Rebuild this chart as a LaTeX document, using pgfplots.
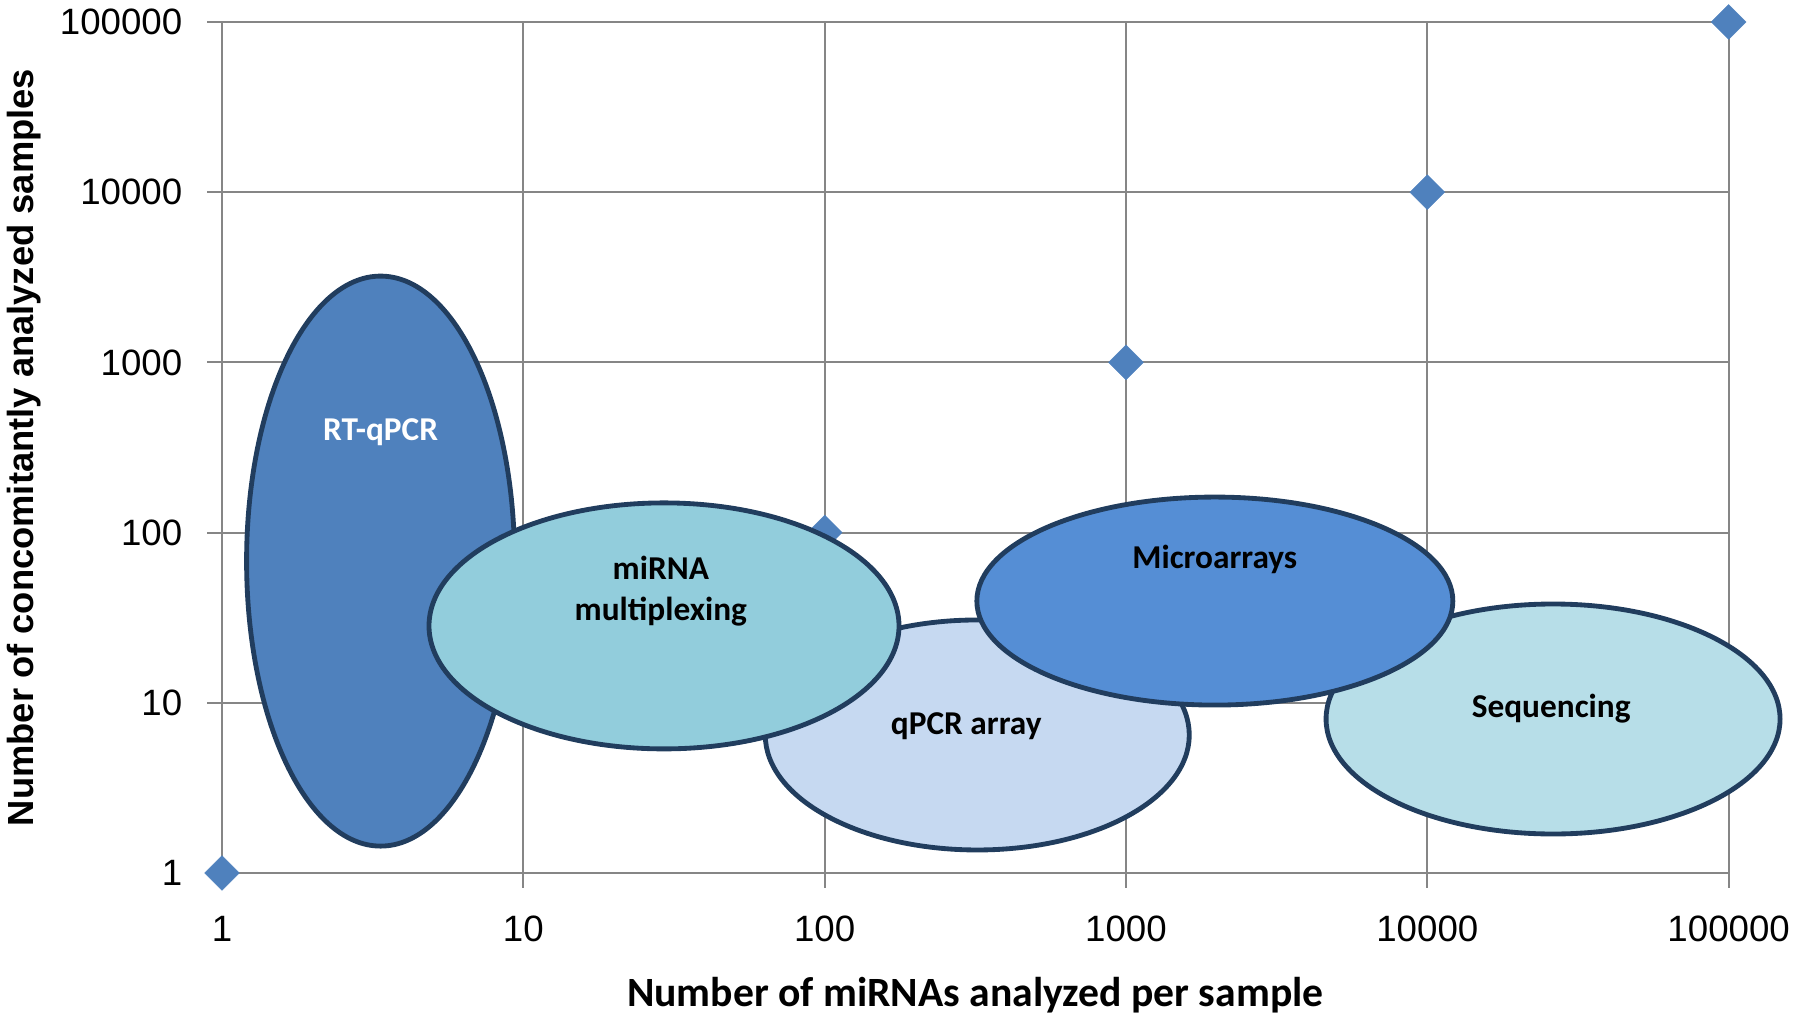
\documentclass[border=0pt]{standalone}
\usepackage{fontspec}
\setmainfont{Liberation Sans}
\newfontfamily\calibri{Carlito}
\usepackage{pgfplots}
\pgfplotsset{compat=1.18}

\definecolor{gridgray}{HTML}{868686}
\definecolor{markblue}{HTML}{4F81BD}
\definecolor{edge}{HTML}{213D5E}
\definecolor{rtfill}{HTML}{4F81BD}
\definecolor{mpfill}{HTML}{92CDDC}
\definecolor{qafill}{HTML}{C6D9F1}
\definecolor{mafill}{HTML}{558ED5}
\definecolor{sqfill}{HTML}{B7DEE8}

\begin{document}
\begin{tikzpicture}
\begin{axis}[
    name=ax,
    scale only axis,
    width=452pt, height=255.3pt,
    xmode=log, ymode=log,
    xmin=1, xmax=100000, ymin=1, ymax=100000,
    xtick={1,10,100,1000,10000,100000},
    xticklabels={1,10,100,1000,10000,100000},
    ytick={1,10,100,1000,10000,100000},
    yticklabels={1,10,100,1000,10000,100000},
    xminorticks=false, yminorticks=false,
    grid=major,
    major grid style={gridgray, line width=0.6pt},
    axis line style={gridgray, line width=0.6pt},
    tick style={gridgray, line width=0.6pt},
    tick align=outside, tick pos=left,
    major tick length=4.4pt,
    ticklabel style={font=\fontsize{11}{13}\selectfont},
    xticklabel style={yshift=-5pt},
    yticklabel style={xshift=-4pt},
    every axis x label/.style={at={(rel axis cs:0.5,0)}, yshift=-36.6pt, anchor=center},
    every axis y label/.style={at={(rel axis cs:0,0.5)}, xshift=-59.5pt, rotate=90, anchor=center},
    xlabel={\calibri\bfseries\fontsize{12.5}{14}\selectfont Number of miRNAs analyzed per sample},
    ylabel={\bfseries\fontsize{10.9}{13}\selectfont Number of concomitantly analyzed samples},
    clip=false, clip marker paths=true,
]
% diagonal reference points
\addplot[only marks, color=markblue, mark=square*, mark size=3.7pt,
    mark options={rotate=45, fill=markblue, draw=markblue, line width=0.1pt}]
    coordinates {(1,1) (100,100) (1000,1000) (10000,10000) (100000,100000)};

% method ellipses
\tikzset{ell/.style={draw=edge, line width=1.45pt}}
\draw[ell, fill=rtfill] (axis cs:3.36,68) ellipse [x radius=40.2pt, y radius=85.5pt];
\draw[ell, fill=qafill] (axis cs:321,6.47) ellipse [x radius=63.6pt, y radius=34.5pt];
\draw[ell, fill=sqfill] (axis cs:26140,8.03) ellipse [x radius=68.1pt, y radius=34.5pt];
\draw[ell, fill=mpfill] (axis cs:29.3,28.3) ellipse [x radius=70.5pt, y radius=36.9pt];
\draw[ell, fill=mafill] (axis cs:1972,39.6) ellipse [x radius=71.4pt, y radius=31.2pt];

\tikzset{lab/.style={font=\calibri\bfseries\fontsize{10}{12.4}\selectfont, align=center}}
\node[lab, text=white] at (axis cs:3.36,390) {RT-qPCR};
\node[lab] at (axis cs:28.6,45.4) {miRNA\\multiplexing};
\node[lab] at (axis cs:295,7.3) {qPCR array};
\node[lab] at (axis cs:1972,70) {Microarrays};
\node[lab] at (axis cs:25760,9.2) {Sequencing};
\end{axis}
\pgfresetboundingbox
\path ([xshift=-66.6pt, yshift=-42.6pt]ax.south west) rectangle ([xshift=20.5pt, yshift=6.6pt]ax.north east);
\end{tikzpicture}
\end{document}
